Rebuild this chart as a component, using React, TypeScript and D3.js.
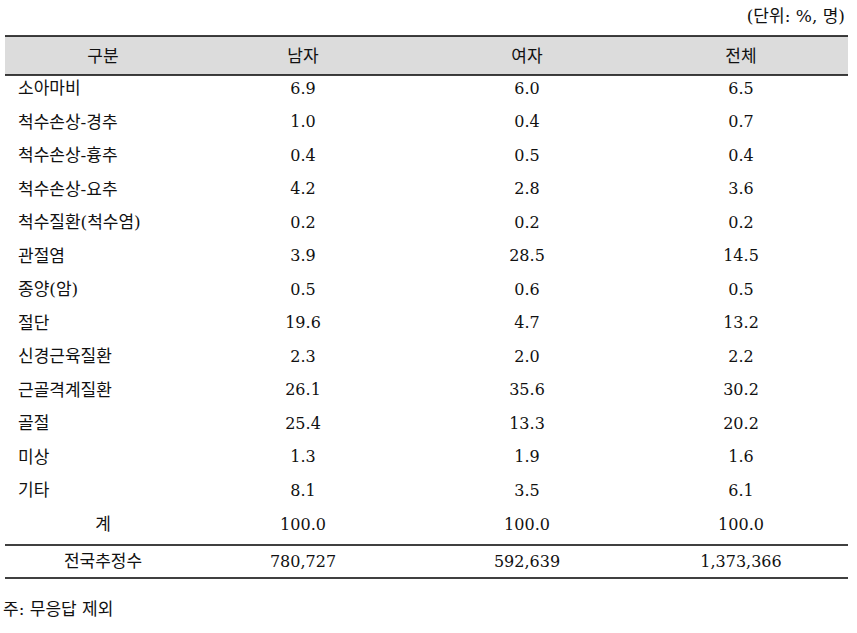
import React from "react";
import * as d3 from "d3";

const categories = ["소아마비", "척수손상-경추", "척수손상-흉추", "척수손상-요추", "척수질환(척수염)", "관절염", "종양(암)", "절단", "신경근육질환", "근골격계질환", "골절", "미상", "기타", "계"];
const male = ["6.9", "1.0", "0.4", "4.2", "0.2", "3.9", "0.5", "19.6", "2.3", "26.1", "25.4", "1.3", "8.1", "100.0"];
const female = ["6.0", "0.4", "0.5", "2.8", "0.2", "28.5", "0.6", "4.7", "2.0", "35.6", "13.3", "1.9", "3.5", "100.0"];
const total = ["6.5", "0.7", "0.4", "3.6", "0.2", "14.5", "0.5", "13.2", "2.2", "30.2", "20.2", "1.6", "6.1", "100.0"];
const headers = ["구분", "남자", "여자", "전체"];
const estimateLabel = "전국추정수";
const estimates = ["780,727", "592,639", "1,373,366"];
const unitText = "(단위: %, 명)";
const noteText = "주: 무응답 제외";

const W = 857;
const H = 633;
const FONT = "'DejaVu Serif', 'Noto Sans CJK KR', serif";

export default function App() {
  const colX = d3.scaleOrdinal<string, number>().domain(headers).range([103, 303, 527, 741]);
  const rowY = d3.scaleLinear().domain([0, categories.length - 1]).range([88, 524]);
  const left = 5;
  const right = 848;
  const fs = 16;
  const fk = 17;
  const ink = "#111";
  return (
    <svg width={W} height={H} style={{ position: "absolute", left: 0, top: 0 }} fontFamily={FONT}>
      <rect width={W} height={H} fill="#fff" />
      <text x={845} y={16} textAnchor="end" dominantBaseline="central" fontSize={fk} fill={ink}>{unitText}</text>
      <rect x={left} y={36} width={right - left} height={39} fill="#dcdcdc" />
      <line x1={left} x2={right} y1={36} y2={36} stroke="#000" strokeWidth={1.5} />
      <line x1={left} x2={right} y1={75} y2={75} stroke="#000" strokeWidth={1.5} />
      {headers.map((h) => (
        <text key={h} x={colX(h)} y={56} textAnchor="middle" dominantBaseline="central" fontSize={fk} fill={ink}>{h}</text>
      ))}
      {categories.map((c, i) => {
        const y = rowY(i);
        const isTotal = i === categories.length - 1;
        return (
          <g key={c}>
            <text x={isTotal ? colX("구분") : 18} y={y} textAnchor={isTotal ? "middle" : "start"} dominantBaseline="central" fontSize={fk} fill={ink}>{c}</text>
            <text x={colX("남자")} y={y} textAnchor="middle" dominantBaseline="central" fontSize={fs} fill={ink}>{male[i]}</text>
            <text x={colX("여자")} y={y} textAnchor="middle" dominantBaseline="central" fontSize={fs} fill={ink}>{female[i]}</text>
            <text x={colX("전체")} y={y} textAnchor="middle" dominantBaseline="central" fontSize={fs} fill={ink}>{total[i]}</text>
          </g>
        );
      })}
      <line x1={left} x2={right} y1={545} y2={545} stroke="#000" strokeWidth={1.3} />
      <text x={colX("구분")} y={561} textAnchor="middle" dominantBaseline="central" fontSize={fk} fill={ink}>{estimateLabel}</text>
      {["남자", "여자", "전체"].map((h, j) => (
        <text key={h} x={colX(h)} y={561} textAnchor="middle" dominantBaseline="central" fontSize={fs} fill={ink}>{estimates[j]}</text>
      ))}
      <line x1={left} x2={right} y1={578} y2={578} stroke="#000" strokeWidth={1.3} />
      <text x={3} y={609} dominantBaseline="central" fontSize={fk} fill={ink}>{noteText}</text>
    </svg>
  );
}
